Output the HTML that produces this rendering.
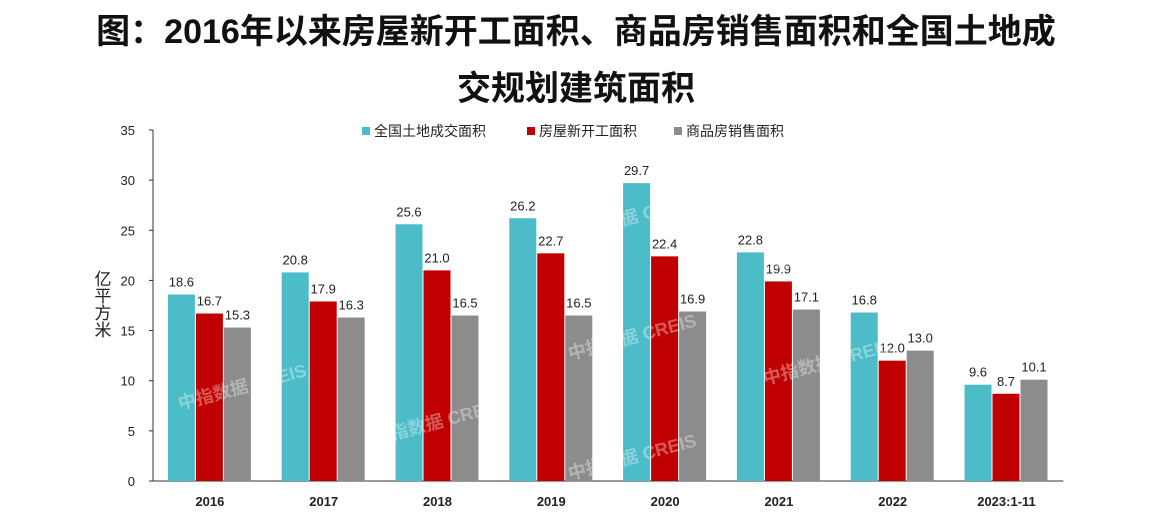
<!DOCTYPE html>
<html><head><meta charset="utf-8"><style>
body{margin:0;background:#fff;width:1152px;height:527px;overflow:hidden;font-family:"Liberation Sans","Noto Sans CJK SC",sans-serif}
.title{position:absolute;left:0;width:1152px;text-align:center;font-weight:bold;font-size:34px;color:#111;line-height:40px}
</style></head><body>
<div class="title" style="top:12px">图：2016年以来房屋新开工面积、商品房销售面积和全国土地成</div>
<div class="title" style="top:69px">交规划建筑面积</div>
<svg id="chart" width="1152" height="527" style="position:absolute;left:0;top:0" font-family="Liberation Sans, Noto Sans CJK SC, sans-serif"></svg>
<script>
const categories=["2016","2017","2018","2019","2020","2021","2022","2023:1-11"];
const landValues=[18.6,20.8,25.6,26.2,29.7,22.8,16.8,9.6];
const startValues=[16.7,17.9,21.0,22.7,22.4,19.9,12.0,8.7];
const salesValues=[15.3,16.3,16.5,16.5,16.9,17.1,13.0,10.1];
const seriesNames=["全国土地成交面积","房屋新开工面积","商品房销售面积"];
const yTicks=[0,5,10,15,20,25,30,35];
const colors=["#4bbcc8","#c00000","#8c8c8c"];
const svg=document.getElementById('chart');
const NS="http://www.w3.org/2000/svg";
const x0=153,band=113.8,y0=481,yTop=130,yMax=35,barW=28;
function y(v){return y0-(v/yMax)*(y0-yTop);}
function xc(i){return x0+band*(i+0.5);}
function mk(t,a,p){const e=document.createElementNS(NS,t);for(const k in a)e.setAttribute(k,a[k]);(p||svg).appendChild(e);return e;}
// axis
let ax=mk('line',{x1:x0,y1:yTop,x2:x0,y2:y0,stroke:'#333','stroke-width':1});


let bx=mk('line',{x1:x0,y1:y0,x2:x0+band*8,y2:y0,stroke:'#333','stroke-width':1});


yTicks.forEach(v=>{mk('line',{x1:x0-4,y1:y(v),x2:x0,y2:y(v),stroke:'#333'});
const t=mk('text',{x:x0-18,y:y(v)+5,'text-anchor':'end','font-size':13,fill:'#222'});t.textContent=v;

});
const yl=mk('text',{x:101,y:270,'font-size':17,fill:'#222','writing-mode':'tb','glyph-orientation-vertical':0,'text-anchor':'start'});yl.textContent='亿平方米';


const all=[landValues,startValues,salesValues];
categories.forEach((c,i)=>{
  const t=mk('text',{x:xc(i),y:506,'text-anchor':'middle','font-size':13,'font-weight':'bold',fill:'#222'});t.textContent=c;
  
  
  all.forEach((s,k)=>{
    const bxp=xc(i)-42+k*barW;
    const r=mk('rect',{x:bxp,y:y(s[i]),width:barW-1,height:y0-y(s[i]),fill:colors[k]});
    
    
    const l=mk('text',{x:bxp+13.5,y:y(s[i])-8,'text-anchor':'middle','font-size':13,fill:'#222'});l.textContent=s[i].toFixed(1);
    
    
  });
});
// watermarks
const wm=[[180,170],[375,205],[570,240],[765,275],[960,180],[180,410],[375,445],[570,480],[765,385],[960,300],[570,360],[765,145]];
wm.forEach(p=>{const t=mk('text',{x:p[0],y:p[1],fill:'#ffffff','fill-opacity':0.35,'font-size':18,'font-weight':'bold',transform:`rotate(-15 ${p[0]} ${p[1]})`});t.textContent='中指数据 CREIS';

});
// legend
const lx=[362,527,674];
seriesNames.forEach((n,k)=>{
  const g=mk('g',{});
  
  
  mk('rect',{x:lx[k],y:127,width:8,height:8,fill:colors[k]},g);
  const t=mk('text',{x:lx[k]+12,y:136,'font-size':14,fill:'#222'},g);t.textContent=n;
});
</script>
</body></html>
